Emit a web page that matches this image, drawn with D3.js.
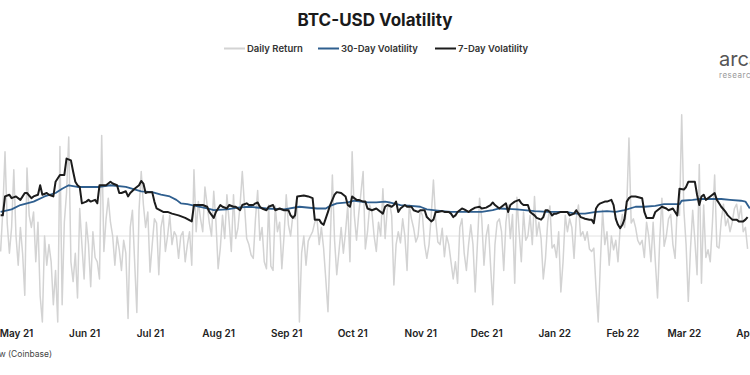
<!DOCTYPE html>
<html>
<head>
<meta charset="utf-8">
<script src="https://cdn.jsdelivr.net/npm/d3@7"></script>
<style>
  body { margin: 0; background: #fff; overflow: hidden; }
  svg { display: block; font-family: Inter, "Open Sans", sans-serif; }
</style>
</head>
<body>
<div id="chart"></div>
<script>
// first day of the series, one value per day after it
var startDate = new Date(2021, 3, 24);

// daily return (%)
var dailyReturn = [
  -1.8, 3, 9.8, 1.5, -2, 1, 7.7, 0, -3.4, 1, -2, -6.9, 7.9, 2.4, 1, 2.8, -3, 1.6, -7, -10,
  0, -3.4, -1, -3, -8, -4, -10, 10.4, -8, 1.6, 5, 11.5, -3, -5.3, -2, -7.2, 3.2, -1, -5, 1.6,
  -1, -5.9, 0.5, -2.5, -3, -5, 11.7, -1.8, 2, 4.4, 1.6, 0, -3.4, 0, -1.6, -4, -0.5,
  -2, -9.6, 1, 3, -3, -8.9, 3, 7.5, 3.6, 1, 2.8, -4.2, -1, 2, 1.5, -4.5, 1, 2.4, -1.8, 0,
  2.4, -1, 0.5, 0, -2.6, 0, 0.5, -3, -1, 0.5, -3.4,
  7.7, 0.5, 4, 2, 0.5, 5.7, 3.6, 1.5, 0, 5.2, 1.7, -3.8, -1.4, 2.4, -0.3, 4.8, 1.7, -1.8, 4.8,
  -0.3, 0.9, 3.6, 7.5, 3.6, -0.3, -1,
  -2.2, -2.6, 2, 5.3, -0.5, 1, -3, -3.8, 3.6, -3.5, -4, 3.5, 0.5, 1.6, -3.8, 0, 4.8, 1.3, 0,
  2.4, 2, 4, -10, -2, 0, -3.4, -0.6, 0, 0.5, 1.6, 2, -1, 1, -1.4, -5, -8.8, -1, 7.1, -0.5,
  -4.5, -1.8, 1, -2, 0.5, 3.6, -3, 9.8, 2.4, -0.5, 2.6, 5, 7.5, -1.5, 0.5, 3.6, 2.8, 0,
  -1.8, 1.6, 0, 5.5, -0.3, 3.2, 3.9, 2.4, -5.7, -1, 0.5, -0.8, 2, 0, -4, 3.6, 2, 0.9, -0.7,
  0, 3, 2.4, -1, -2.6, -1, 2.4, 6.5, 2, -0.7, -1, 0.9, -2.4, 0, -1, -3, -5, -3, -5.5, 1, 2,
  -2, -4, -1, 1.3, -1, -6.5, -1, 4.4, 2, -3.4, 0, 1.3, -3.4, -8, -1, 1.6, 2,
  0.5, -4, 1.6, 3.6, -0.3, 2.5, -5.5, 4.5, 0.5, -3, 2.8, -0.5, 0, 2.4, -1, 4.6, 0, 1.6, -0.3,
  -5, -2.6, 1.6, 3.5, -1.4, -1, -2.5, 0.5, -6.5, -3, 2.4, 0.5, 2, 1, -2.6, 2, 3.6, 0, 0.5,
  -0.5, 0.5, -1.5, -1.8, -1.4, -6, -10, -3, 3, -1, 0.5, -3.4, 0, -1.6, -0.5, -3, 1, 2.5, 1,
  3.5, 11.4, 1.5, 2, 1, -0.5, -1, -0.5, -2.5, 1.6, 0, -3, 1.6, -3, -7.2, -0.5, 4.4, -1.2, 0,
  2, 2.5, -1, -2.6, 3.6, 2.4, 14.1, 3, -1, -7.6, -1.5, 3, -0.5, -4.5, 8.3, -5.5, 3.6, -2.5,
  -1.6, -3, 1.6, 7.1, -1.2, -1.4, 1.8, 3.7, 1.2, 2, 0.5, 1.6, 3.2, 3.7, 2, 3.5, 0.5, 1, -1.5
];

// [days after startDate, volatility %]
var vol30 = [
  [0, 2.8], [5, 3.1], [9, 3.6], [15, 4.0], [20, 4.6], [25, 5.0], [28, 5.5], [31, 5.9], [35, 5.7],
  [39, 5.7], [45, 5.7], [50, 5.9], [57, 5.7], [64, 5.2], [69, 5.1], [73, 4.8], [77, 4.6], [80, 4.2],
  [82, 3.8], [85, 3.7], [87, 3.6], [94, 3.2], [97, 3.0], [103, 3.1], [108, 3.3], [113, 3.4],
  [121, 3.2], [129, 3.1], [136, 3.4], [144, 3.2], [148, 3.2], [150, 3.5], [153, 3.8], [158, 3.9],
  [161, 4.1], [167, 3.9], [171, 3.9], [175, 4.0], [177, 3.9], [182, 3.6], [187, 3.5], [191, 3.4],
  [194, 3.1], [201, 2.9], [205, 2.8], [210, 2.8], [214, 2.8], [219, 2.8], [224, 3.0], [227, 3.2],
  [235, 3.1], [243, 2.9], [249, 2.8], [257, 2.8], [262, 2.6], [266, 2.6], [271, 2.8], [276, 2.9],
  [280, 2.8], [284, 3.0], [289, 3.4], [293, 3.4], [298, 3.5], [302, 3.7], [309, 3.7], [310, 4.1],
  [315, 4.2], [318, 4.3], [323, 4.3], [328, 4.3], [332, 4.2], [337, 4.1], [339, 4.0], [341, 3.2]
];

var vol7 = [
  [0, 2.4], [1, 2.4], [2, 4.6], [4, 4.8], [5, 4.4], [7, 4.6], [9, 4.2], [11, 5.0], [12, 5.0],
  [14, 4.4], [15, 4.6], [17, 4.8], [18, 5.9], [19, 4.8], [21, 5.0], [22, 4.8], [24, 4.6], [25, 6.3],
  [27, 7.1], [29, 7.1], [30, 9.0], [32, 8.8], [33, 7.5], [34, 6.3], [35, 5.9], [36, 5.7], [37, 3.8],
  [39, 4.0], [40, 4.2], [41, 4.0], [43, 4.2], [44, 3.8], [45, 5.9], [47, 5.9], [48, 5.9], [50, 6.3],
  [51, 6.1], [53, 5.9], [54, 5.0], [55, 5.0], [57, 5.2], [58, 4.6], [59, 5.0], [61, 5.5], [63, 5.9],
  [64, 6.4], [65, 6.1], [66, 5.0], [67, 5.1], [69, 5.1], [70, 4.0], [71, 3.2], [74, 2.8], [76, 2.8],
  [78, 2.6], [81, 2.4], [84, 2.1], [87, 1.7], [88, 3.6], [90, 3.6], [92, 3.6], [94, 3.4], [95, 2.8],
  [97, 2.1], [98, 2.8], [100, 3.6], [101, 3.4], [103, 3.2], [104, 3.6], [106, 3.4], [107, 3.4],
  [109, 3.0], [110, 3.6], [112, 3.8], [113, 3.6], [115, 3.6], [116, 3.8], [117, 3.9], [118, 3.4],
  [119, 3.2], [121, 3.0], [122, 3.4], [124, 3.6], [125, 3.0], [127, 3.2], [129, 3.0], [131, 3.0],
  [132, 2.4], [133, 2.1], [134, 2.4], [135, 4.6], [138, 4.7], [140, 4.6], [142, 4.4], [143, 1.9],
  [145, 1.9], [146, 1.5], [147, 1.3], [149, 2.8], [150, 3.6], [152, 4.8], [153, 5.1], [155, 5.0],
  [157, 4.6], [158, 3.6], [159, 3.4], [160, 4.6], [162, 4.2], [163, 4.2], [165, 4.0], [166, 4.0],
  [167, 3.2], [169, 3.0], [171, 3.2], [172, 3.0], [174, 2.6], [175, 3.4], [176, 3.6], [178, 3.4],
  [179, 3.6], [180, 4.0], [181, 2.8], [182, 3.2], [184, 3.6], [185, 3.4], [187, 3.4], [188, 3.0],
  [190, 2.8], [191, 3.0], [193, 3.0], [194, 2.2], [196, 1.7], [197, 1.9], [198, 2.8], [199, 2.8],
  [201, 2.9], [202, 2.8], [204, 2.8], [205, 2.6], [206, 2.2], [207, 2.4], [208, 2.8], [210, 3.2],
  [211, 3.1], [213, 2.8], [214, 3.0], [216, 3.3], [218, 3.4], [219, 3.2], [221, 3.3], [223, 3.6],
  [224, 3.9], [225, 3.6], [227, 3.2], [229, 3.6], [230, 3.8], [231, 2.8], [232, 3.6], [233, 3.8],
  [234, 4.0], [236, 4.2], [237, 3.8], [238, 3.6], [240, 3.6], [241, 2.8], [243, 2.4], [244, 2.1],
  [246, 1.9], [247, 2.2], [248, 3.0], [249, 3.0], [250, 2.8], [251, 2.4], [252, 2.6], [253, 2.6],
  [255, 2.8], [256, 2.8], [258, 2.8], [259, 2.4], [261, 2.6], [262, 3.0], [263, 2.6], [264, 2.2],
  [265, 2.1], [266, 2.0], [268, 1.9], [269, 1.9], [270, 1.5], [271, 3.2], [272, 3.6], [273, 3.8],
  [275, 4.0], [276, 4.0], [278, 4.2], [279, 3.6], [280, 2.0], [281, 1.3], [282, 0.9], [283, 1.3],
  [284, 2.0], [285, 4.0], [286, 4.4], [287, 4.6], [289, 4.6], [292, 4.4], [293, 2.8], [294, 2.1],
  [297, 2.1], [298, 2.8], [299, 3.0], [301, 3.4], [303, 3.2], [304, 3.0], [306, 3.2], [307, 2.8],
  [308, 2.4], [309, 5.5], [311, 5.4], [312, 5.7], [313, 6.3], [316, 6.3], [317, 4.8], [318, 3.6],
  [319, 4.6], [320, 4.8], [321, 4.2], [323, 4.6], [325, 5.0], [326, 4.2], [327, 3.8], [328, 3.4],
  [330, 2.8], [331, 2.4], [333, 1.9], [335, 1.9], [336, 1.7], [338, 1.7], [339, 1.9], [340, 2.2]
];

var seriesNames = ["Daily Return", "30-Day Volatility", "7-Day Volatility"];
var seriesColors = ["#d3d3d3", "#2f5f8f", "#1c1c1c"];
var titleText = "BTC-USD Volatility";
var sourceText = "Source: Arcane Research, TradingView (Coinbase)";

var width = 750, height = 375;

var svg = d3.select("#chart").append("svg")
  .attr("width", width)
  .attr("height", height);

function dayToDate(n) { return d3.timeDay.offset(startDate, n); }

var x = d3.scaleTime()
  .domain([new Date(2021, 4, 1), new Date(2022, 3, 1)])
  .range([16, 752]);

var y = d3.scaleLinear()
  .domain([0, 10])
  .range([236, 150]);

// zero line
svg.append("line")
  .attr("x1", 0).attr("x2", width)
  .attr("y1", y(0)).attr("y2", y(0))
  .attr("stroke", "#e2e2e2")
  .attr("stroke-width", 1);

var line = d3.line()
  .x(function (d) { return x(d[0]); })
  .y(function (d) { return y(d[1]); });

svg.append("path")
  .datum(dailyReturn.map(function (v, i) { return [dayToDate(i), v]; }))
  .attr("d", line)
  .attr("fill", "none")
  .attr("stroke", seriesColors[0])
  .attr("stroke-width", 1.5)
  .attr("stroke-linejoin", "round");

svg.append("path")
  .datum(vol30.map(function (d) { return [dayToDate(d[0]), d[1]]; }))
  .attr("d", line)
  .attr("fill", "none")
  .attr("stroke", seriesColors[1])
  .attr("stroke-width", 1.8)
  .attr("stroke-linejoin", "round");

svg.append("path")
  .datum(vol7.map(function (d) { return [dayToDate(d[0]), d[1]]; }))
  .attr("d", line)
  .attr("fill", "none")
  .attr("stroke", seriesColors[2])
  .attr("stroke-width", 2)
  .attr("stroke-linejoin", "round");

// month axis, labels only
var xAxis = svg.append("g")
  .attr("transform", "translate(0,326)")
  .call(d3.axisBottom(x)
    .ticks(d3.timeMonth.every(1))
    .tickFormat(d3.timeFormat("%b %y"))
    .tickSize(0)
    .tickPadding(4));
xAxis.select(".domain").remove();
xAxis.selectAll("text")
  .attr("font-family", "Inter, sans-serif")
  .attr("font-size", 10)
  .attr("font-weight", 600)
  .attr("fill", "#222");

// title
svg.append("text")
  .attr("x", 375).attr("y", 26)
  .attr("text-anchor", "middle")
  .attr("font-size", 17)
  .attr("font-weight", 700)
  .attr("fill", "#1a1a1a")
  .text(titleText);

// legend
var legendX = [224, 318, 435];
var legend = svg.append("g");
seriesNames.forEach(function (name, i) {
  legend.append("line")
    .attr("x1", legendX[i]).attr("x2", legendX[i] + 21)
    .attr("y1", 48.5).attr("y2", 48.5)
    .attr("stroke", seriesColors[i])
    .attr("stroke-width", 2);
  legend.append("text")
    .attr("x", legendX[i] + 23).attr("y", 52)
    .attr("font-size", 9.5)
    .attr("font-weight", 600)
    .attr("fill", "#333")
    .text(name);
});

// logo
svg.append("text")
  .attr("x", 719).attr("y", 66)
  .attr("font-size", 20)
  .attr("fill", "#555")
  .text("arcane");
svg.append("text")
  .attr("x", 719).attr("y", 78)
  .attr("font-size", 8)
  .attr("letter-spacing", 0.5)
  .attr("fill", "#999")
  .text("research");

// source
svg.append("text")
  .attr("x", 52).attr("y", 357)
  .attr("text-anchor", "end")
  .attr("font-size", 8.5)
  .attr("fill", "#444")
  .text(sourceText);
</script>
</body>
</html>
